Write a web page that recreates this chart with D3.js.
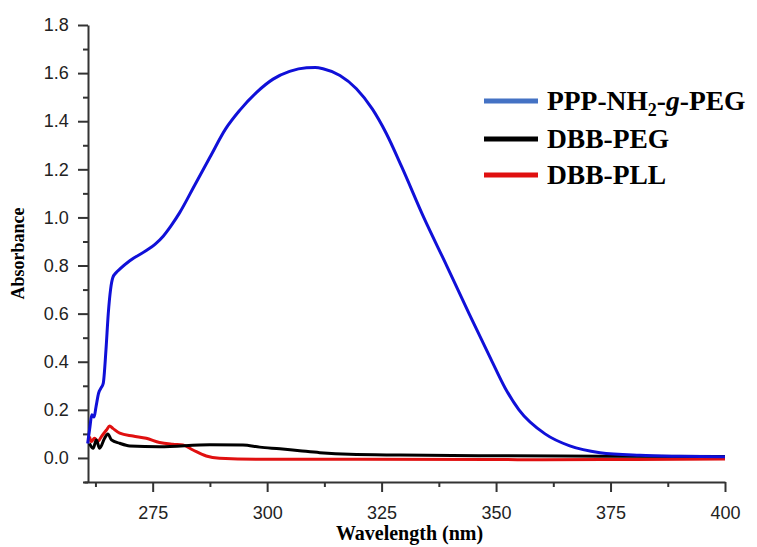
<!DOCTYPE html>
<html><head><meta charset="utf-8">
<script src="https://cdn.jsdelivr.net/npm/d3@7"></script>
<style>body{margin:0;background:#fff}svg{display:block}</style>
</head><body>
<svg id="c" width="757" height="547"></svg>
<script>
// Data (wavelength nm, absorbance)
const seriesNames = ["PPP-NH2-g-PEG", "DBB-PEG", "DBB-PLL"];
const bluePEGwl = [260.8,261.3,261.7,262.2,262.6,263.2,263.7,264.2,264.8,265.3,265.8,266.3,267.0,267.8,270.0,273.6,275.5,277.3,279.0,280.9,284.2,287.5,291.0,294.0,297.7,301.3,304.9,308.6,310.5,312.2,315.9,319.5,323.0,326.0,329.4,334.2,339.2,344.1,348.9,352.0,355.0,360.7,366.1,372.7,381.4,390.0,400.0];
const bluePEGabs = [0.06,0.13,0.18,0.17,0.21,0.27,0.29,0.31,0.45,0.60,0.70,0.75,0.77,0.785,0.82,0.862,0.888,0.922,0.965,1.02,1.135,1.25,1.37,1.445,1.52,1.575,1.607,1.622,1.623,1.618,1.59,1.535,1.45,1.35,1.21,1.00,0.80,0.60,0.41,0.29,0.20,0.10,0.05,0.022,0.011,0.007,0.005];
const dbbPEGwl = [261.2,262.0,262.7,263.4,264.5,265.2,266.0,267.8,270.0,276.5,287.5,294.7,298.4,302.8,307.1,311.5,318.0,329.0,350.8,372.7,400.0];
const dbbPEGabs = [0.06,0.04,0.075,0.04,0.082,0.10,0.075,0.061,0.05,0.047,0.055,0.054,0.045,0.038,0.03,0.022,0.015,0.012,0.009,0.007,0.006];
const dbbPLLwl = [261.2,261.6,262.3,263.0,263.8,264.9,265.6,266.3,267.8,270.7,273.6,276.5,279.4,281.6,283.8,286.7,289.6,298.4,320.0,350.0,360.0,380.0,400.0];
const dbbPLLabs = [0.089,0.068,0.082,0.068,0.089,0.116,0.133,0.123,0.103,0.091,0.082,0.064,0.057,0.054,0.033,0.008,-0.001,-0.005,-0.005,-0.006,-0.008,-0.006,-0.004];
const xTicks = [275,300,325,350,375,400];
const yTicks = [0.0,0.2,0.4,0.6,0.8,1.0,1.2,1.4,1.6,1.8];

const svg = d3.select("#c");
const x = d3.scaleLinear().domain([260,400]).range([84,725]);
const y = d3.scaleLinear().domain([-0.1,1.8]).range([482,25]);
const yAxisX = 88;

// axes
const xAxis = d3.axisBottom(x).tickValues(xTicks).tickSize(10).tickSizeOuter(0).tickFormat(d3.format("d"));
const xMinor = d3.axisBottom(x).tickValues([262.5,287.5,312.5,337.5,362.5,387.5]).tickSize(5).tickSizeOuter(0).tickFormat("");
const gx = svg.append("g").attr("transform",`translate(0,${y(-0.1)})`).call(xAxis);
svg.append("g").attr("transform",`translate(0,${y(-0.1)})`).call(xMinor).select(".domain").remove();
const yAxis = d3.axisLeft(y).tickValues(yTicks).tickSize(10).tickSizeOuter(0).tickFormat(d3.format(".1f"));
const yMinor = d3.axisLeft(y).tickValues(d3.range(-0.1,1.8,0.2).map(v=>+v.toFixed(1))).tickSize(5).tickSizeOuter(0).tickFormat("");
const gy = svg.append("g").attr("transform",`translate(${yAxisX},0)`).call(yAxis);
svg.append("g").attr("transform",`translate(${yAxisX},0)`).call(yMinor).select(".domain").remove();
svg.selectAll(".domain, .tick line").attr("stroke","#333").attr("stroke-width",2);
svg.selectAll(".tick text").attr("font-family","Liberation Sans, Arial, sans-serif").attr("font-size",18).attr("fill","#222");
gx.selectAll(".tick text").attr("dy","1.35em");
gy.selectAll(".tick text").attr("dx","-0.35em");

// titles
svg.append("text").attr("x",(x(260)+x(400))/2+5).attr("y",540).attr("text-anchor","middle")
  .attr("font-family","Liberation Serif, Times New Roman, serif").attr("font-weight","bold").attr("font-size",20).text("Wavelength (nm)");
svg.append("text").attr("transform",`translate(24,${y(0.85)}) rotate(-90)`).attr("text-anchor","middle")
  .attr("font-family","Liberation Serif, Times New Roman, serif").attr("font-weight","bold").attr("font-size",18).text("Absorbance");

// lines
const line = d3.line().x(d=>x(d[0])).y(d=>y(d[1])).curve(d3.curveMonotoneX);
const series = [
  {wl:bluePEGwl, ab:bluePEGabs, color:"#1010d8"},
  {wl:dbbPEGwl, ab:dbbPEGabs, color:"#000000"},
  {wl:dbbPLLwl, ab:dbbPLLabs, color:"#e01010"}
];
series.slice().reverse().forEach(s=>{
  svg.append("path").datum(s.wl.map((w,i)=>[w,s.ab[i]])).attr("d",line)
    .attr("fill","none").attr("stroke",s.color).attr("stroke-width",3).attr("stroke-linejoin","round");
});

// legend
const legColors = ["#4472c4","#000000","#e01010"];
const legY = [101,139,175];
const lg = svg.append("g").attr("font-family","Liberation Serif, Times New Roman, serif").attr("font-weight","bold").attr("font-size",27.5);
legY.forEach((ly,i)=>{
  lg.append("line").attr("x1",484).attr("x2",538).attr("y1",ly).attr("y2",ly).attr("stroke",legColors[i]).attr("stroke-width",5);
  const t = lg.append("text").attr("x",547).attr("y",ly+9);
  if(i===0){
    t.append("tspan").text("PPP-NH");
    t.append("tspan").attr("font-size",18).attr("dy",6).text("2");
    t.append("tspan").attr("dy",-6).text("-");
    t.append("tspan").attr("font-style","italic").text("g");
    t.append("tspan").text("-PEG");
  } else {
    t.text(seriesNames[i]);
  }
});
</script>
</body></html>
